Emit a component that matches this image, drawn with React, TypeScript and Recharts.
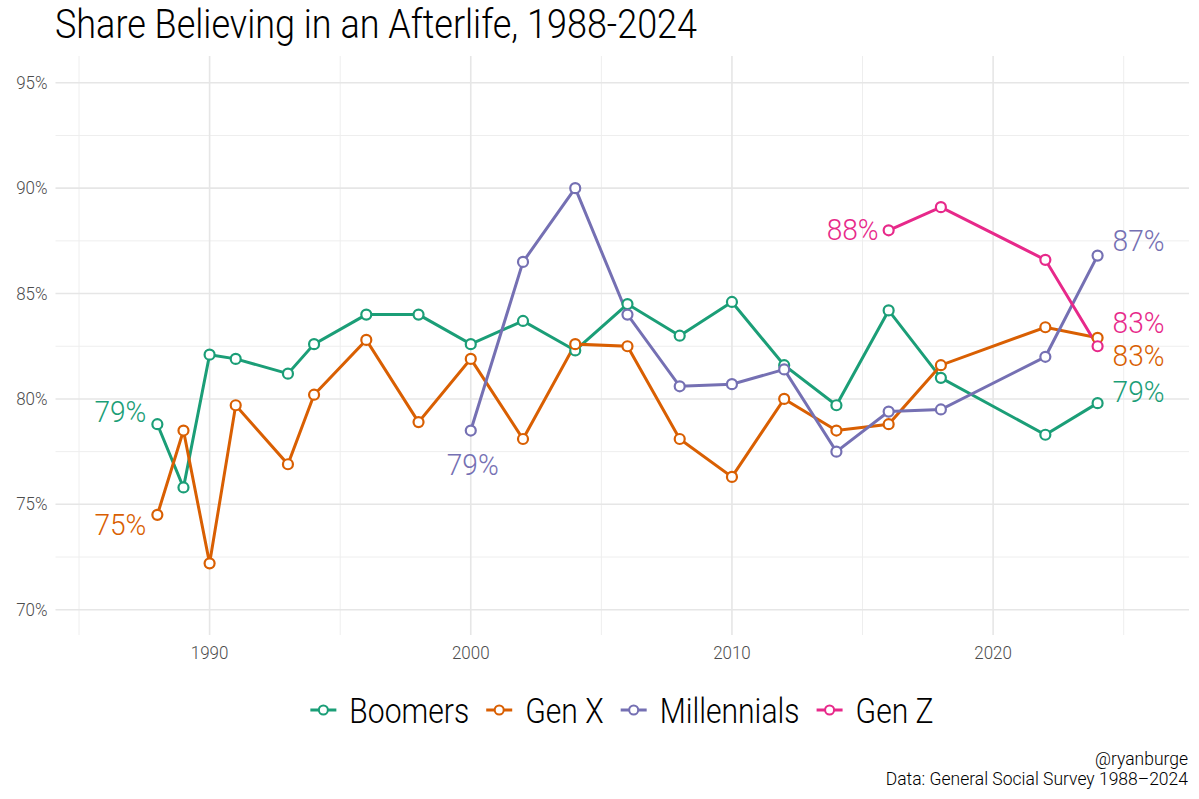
import React from 'react';
import {
  LineChart,
  Line,
  XAxis,
  YAxis,
  CartesianGrid,
  Legend,
  ReferenceDot,
} from 'recharts';

// GSS survey years
const boomerYears = [1988, 1989, 1990, 1991, 1993, 1994, 1996, 1998, 2000, 2002, 2004, 2006, 2008, 2010, 2012, 2014, 2016, 2018, 2022, 2024];
const boomerValues = [78.8, 75.8, 82.1, 81.9, 81.2, 82.6, 84.0, 84.0, 82.6, 83.7, 82.3, 84.5, 83.0, 84.6, 81.6, 79.7, 84.2, 81.0, 78.3, 79.8];

const genXYears = [1988, 1989, 1990, 1991, 1993, 1994, 1996, 1998, 2000, 2002, 2004, 2006, 2008, 2010, 2012, 2014, 2016, 2018, 2022, 2024];
const genXValues = [74.5, 78.5, 72.2, 79.7, 76.9, 80.2, 82.8, 78.9, 81.9, 78.1, 82.6, 82.5, 78.1, 76.3, 80.0, 78.5, 78.8, 81.6, 83.4, 82.9];

const millYears = [2000, 2002, 2004, 2006, 2008, 2010, 2012, 2014, 2016, 2018, 2022, 2024];
const millValues = [78.5, 86.5, 90.0, 84.0, 80.6, 80.7, 81.4, 77.5, 79.4, 79.5, 82.0, 86.8];

const genZYears = [2016, 2018, 2022, 2024];
const genZValues = [88.0, 89.1, 86.6, 82.5];

const xTicks = [1990, 2000, 2010, 2020];
const xMinor = [1985, 1995, 2005, 2015, 2025];
const yTicks = [70, 75, 80, 85, 90, 95];
const yMinor = [72.5, 77.5, 82.5, 87.5, 92.5];

// text labels at the ends of the lines
const labelSeries = ['Boomers', 'Boomers', 'Gen X', 'Gen X', 'Millennials', 'Millennials', 'Gen Z', 'Gen Z'];
const labelYears = [1988, 2024, 1988, 2024, 2000, 2024, 2016, 2024];
const labelTexts = ['79%', '79%', '75%', '83%', '79%', '87%', '88%', '83%'];

const COLORS: Record<string, string> = {
  Boomers: '#1B9E77',
  'Gen X': '#D95F02',
  Millennials: '#7570B3',
  'Gen Z': '#E7298A',
};

// where each label sits relative to its point
const PLACE: Record<string, { dx: number; dy: number; anchor: string }> = {
  'Boomers-1988': { dx: -11, dy: -12, anchor: 'end' },
  'Boomers-2024': { dx: 15, dy: -11, anchor: 'start' },
  'Gen X-1988': { dx: -11, dy: 10, anchor: 'end' },
  'Gen X-2024': { dx: 15, dy: 19, anchor: 'start' },
  'Millennials-2000': { dx: 2, dy: 35, anchor: 'middle' },
  'Millennials-2024': { dx: 15, dy: -14, anchor: 'start' },
  'Gen Z-2016': { dx: -10, dy: 0, anchor: 'end' },
  'Gen Z-2024': { dx: 15, dy: -23, anchor: 'start' },
};

const SERIES = [
  { name: 'Boomers', years: boomerYears, values: boomerValues },
  { name: 'Gen X', years: genXYears, values: genXValues },
  { name: 'Millennials', years: millYears, values: millValues },
  { name: 'Gen Z', years: genZYears, values: genZValues },
];

const FONT = 'Roboto, sans-serif';

// the original uses a condensed face, so glyphs get squeezed with sx
function CText({ x, y, text, anchor = 'start', size, fill, sx = 0.86, base = 'central', weight = 300 }: any) {
  return (
    <text
      transform={`translate(${x},${y}) scale(${sx},1)`}
      textAnchor={anchor}
      dominantBaseline={base}
      fontSize={size}
      fill={fill}
      fontFamily={FONT}
      fontWeight={weight}
    >
      {text}
    </text>
  );
}

let ctx: CanvasRenderingContext2D | null = null;
function textWidth(text: string, size: number) {
  if (!ctx) ctx = document.createElement('canvas').getContext('2d');
  if (!ctx) return text.length * size * 0.5;
  ctx.font = `300 ${size}px Roboto`;
  return ctx.measureText(text).width;
}

const XTick = ({ x, y, payload }: any) => (
  <CText x={x} y={y + 10} text={payload.value} anchor="middle" size={17.5} sx={0.97} fill="#4d4d4d" />
);
const YTick = ({ x, y, payload }: any) => (
  <CText x={x} y={y} text={`${payload.value}%`} anchor="end" size={17.5} sx={0.97} fill="#4d4d4d" />
);

const LEG_SIZE = 35;
const LEG_SX = 0.86;

const LegendContent = () => {
  const items = SERIES.map((s) => ({ name: s.name, w: textWidth(s.name, LEG_SIZE) * LEG_SX }));
  const total = items.reduce((a, it) => a + 26 + 13 + it.w, 0) + 17 * (items.length - 1);
  let cur = 622 - total / 2;
  return (
    <svg width={1199} height={50}>
      {items.map((it) => {
        const x0 = cur;
        cur += 26 + 13 + it.w + 17;
        const c = COLORS[it.name];
        return (
          <g key={it.name}>
            <line x1={x0} y1={24} x2={x0 + 26} y2={24} stroke={c} strokeWidth={3} />
            <circle cx={x0 + 13} cy={24} r={4.5} fill="#fff" stroke={c} strokeWidth={2} />
            <CText x={x0 + 39} y={25} text={it.name} size={LEG_SIZE} sx={LEG_SX} fill="#000" />
          </g>
        );
      })}
    </svg>
  );
};

export default function App() {
  return (
    <div style={{ position: 'absolute', left: 0, top: 0, width: 1199, height: 799, background: '#fff' }}>
      <LineChart width={1199} height={799} margin={{ top: 56, right: 10, left: 5, bottom: 134 }}>
        <CartesianGrid stroke="#eeeeee" strokeWidth={1} verticalValues={xMinor} horizontalValues={yMinor} />
        <CartesianGrid stroke="#e6e6e6" strokeWidth={1.6} verticalValues={xTicks} horizontalValues={yTicks} />
        <XAxis
          type="number"
          dataKey="year"
          domain={[1984.1, 2027.5]}
          ticks={xTicks}
          allowDataOverflow
          axisLine={false}
          tickLine={false}
          height={30}
          tick={<XTick />}
        />
        <YAxis
          type="number"
          domain={[68.8, 96.27]}
          ticks={yTicks}
          allowDataOverflow
          axisLine={false}
          tickLine={false}
          width={50.5}
          tick={<YTick />}
        />
        <Legend
          layout="horizontal"
          verticalAlign="middle"
          align="center"
          wrapperStyle={{ top: 686, left: 0, width: 1199 }}
          content={<LegendContent />}
        />
        {SERIES.map((s) => (
          <Line
            key={s.name}
            name={s.name}
            data={s.years.map((yr, i) => ({ year: yr, value: s.values[i] }))}
            dataKey="value"
            stroke={COLORS[s.name]}
            strokeWidth={3}
            dot={{ r: 5, fill: '#fff', stroke: COLORS[s.name], strokeWidth: 2.2 }}
            isAnimationActive={false}
          />
        ))}
        {labelTexts.map((t, i) => {
          const s = SERIES.find((ss) => ss.name === labelSeries[i])!;
          const v = s.values[s.years.indexOf(labelYears[i])];
          const p = PLACE[`${labelSeries[i]}-${labelYears[i]}`];
          return (
            <ReferenceDot
              key={i}
              x={labelYears[i]}
              y={v}
              r={0}
              shape={(props: any) => (
                <CText x={props.cx + p.dx} y={props.cy + p.dy} text={t} anchor={p.anchor} size={29} sx={0.97} fill={COLORS[labelSeries[i]]} />
              )}
            />
          );
        })}
      </LineChart>
      <svg width={1199} height={799} style={{ position: 'absolute', left: 0, top: 0, pointerEvents: 'none' }}>
        <CText x={55} y={37.5} base="alphabetic" text="Share Believing in an Afterlife, 1988-2024" size={40} sx={0.9} fill="#000" />
        <CText x={1188} y={765} base="alphabetic" text="@ryanburge" anchor="end" size={17.5} sx={1} fill="#000" />
        <CText x={1188} y={785} base="alphabetic" text="Data: General Social Survey 1988–2024" anchor="end" size={17.5} sx={1} fill="#000" />
      </svg>
    </div>
  );
}
